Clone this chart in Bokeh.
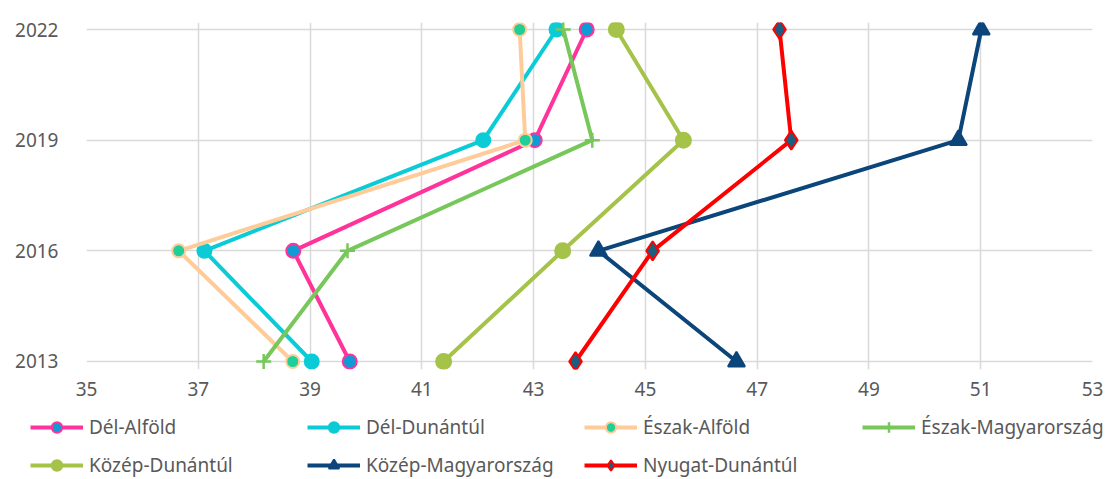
from bokeh.plotting import figure
from bokeh.models import Range1d, FixedTicker, Legend, LegendItem
from bokeh.embed import file_html
from bokeh.resources import INLINE

years = [2013, 2016, 2019, 2022]
x_ticks = [35, 37, 39, 41, 43, 45, 47, 49, 51, 53]

del_alfold = [39.71, 38.70, 43.02, 43.95]
del_dunantul = [39.03, 37.11, 42.10, 43.41]
eszak_alfold = [38.69, 36.65, 42.85, 42.75]
eszak_magyarorszag = [38.17, 39.67, 44.05, 43.53]
kozep_dunantul = [41.39, 43.52, 45.68, 44.48]
kozep_magyarorszag = [46.63, 44.16, 50.60, 51.01]
nyugat_dunantul = [43.75, 45.13, 47.61, 47.40]

series_names = ["Dél-Alföld", "Dél-Dunántúl", "Észak-Alföld", "Észak-Magyarország",
                "Közép-Dunántúl", "Közép-Magyarország", "Nyugat-Dunántúl"]
series_values = [del_alfold, del_dunantul, eszak_alfold, eszak_magyarorszag,
                 kozep_dunantul, kozep_magyarorszag, nyugat_dunantul]

# style: line color, marker, marker fill, marker outline, marker size
styles = [
    ("#FF3399", "circle", "#0E9BD6", "#FF3399", 14),
    ("#0BCBD6", "circle", "#0BCBD6", "#0BCBD6", 14),
    ("#FFCC99", "circle", "#1FCF97", "#FFCC99", 13),
    ("#77C75A", "cross", "#77C75A", "#77C75A", 15),
    ("#A5C249", "circle", "#A5C249", "#A5C249", 15),
    ("#0B457A", "triangle", "#0B457A", "#0B457A", 17),
    ("#FF0000", "diamond", "#1A5E80", "#FF0000", 19),
]

FONT = "Noto Sans"
GRAY = "#595959"
GRID = "#D9D9D9"

p = figure(width=1110, height=410, output_backend="svg", toolbar_location=None,
           x_range=Range1d(35, 53), y_range=Range1d(2012.783, 2022.19),
           min_border_left=86, min_border_right=18, min_border_top=22, min_border_bottom=41)
p.outline_line_color = None
p.background_fill_color = "white"
p.border_fill_color = "white"

p.xaxis.ticker = FixedTicker(ticks=x_ticks)
p.yaxis.ticker = FixedTicker(ticks=years)
for ax in (p.xaxis[0], p.yaxis[0]):
    ax.axis_line_color = None
    ax.major_tick_line_color = None
    ax.minor_tick_line_color = None
    ax.major_label_text_font = FONT
    ax.major_label_text_font_size = "19px"
    ax.major_label_text_color = GRAY
p.xaxis.major_label_standoff = 6
p.yaxis.major_label_standoff = 22
p.xgrid.ticker = FixedTicker(ticks=x_ticks)
p.ygrid.ticker = FixedTicker(ticks=years)
p.xgrid.grid_line_color = GRID
p.ygrid.grid_line_color = GRID
p.xgrid.grid_line_width = 1.5
p.ygrid.grid_line_width = 1.5

# legend strip below the chart (its own glyphs lie outside its view)
q = figure(width=1110, height=69, output_backend="svg", toolbar_location=None,
           x_range=Range1d(0, 1), y_range=Range1d(0, 1),
           x_axis_location=None, y_axis_location=None, min_border=0)
q.outline_line_color = None
q.xgrid.visible = False
q.ygrid.visible = False

leg_items = []
for name, vals, (lc, mk, fc, oc, sz) in zip(series_names, series_values, styles):
    rr = []
    for fig in (p, q):
        r1 = fig.line(vals, years, line_color=lc, line_width=4, line_join="round")
        if mk == "cross":
            r2 = fig.scatter(vals, years, marker=mk, size=sz, line_color=oc, line_width=2.5)
        else:
            r2 = fig.scatter(vals, years, marker=mk, size=sz, fill_color=fc, line_color=oc, line_width=2)
        rr.append([r1, r2])
    leg_items.append(LegendItem(label=name, renderers=rr[1]))

columns = [[0, 4], [1, 5], [2, 6], [3]]
col_x = [30, 307, 584, 862]
for cx, idxs in zip(col_x, columns):
    ly = 1 if len(idxs) == 2 else 39
    lg = Legend(items=[leg_items[i] for i in idxs], location=(cx, ly), orientation="vertical",
                glyph_width=53, glyph_height=26, label_height=26, spacing=12,
                padding=0, margin=0, label_standoff=6,
                label_text_font=FONT, label_text_font_size="19px", label_text_color=GRAY,
                border_line_color=None, background_fill_alpha=0)
    q.add_layout(lg, "center")

open("out.html", "w").write(file_html([p, q], INLINE))
